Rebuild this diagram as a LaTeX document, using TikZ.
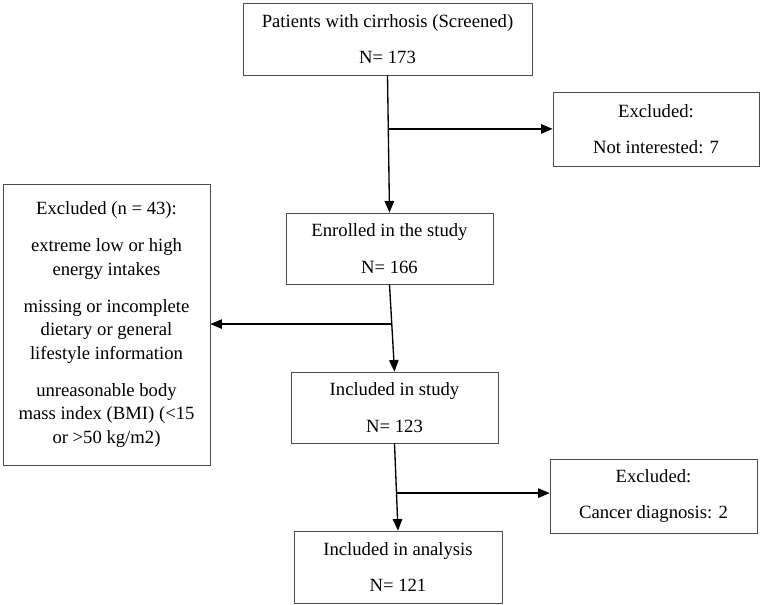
\documentclass[tikz,border=0pt]{standalone}
\usepackage{fontspec}
\setmainfont{Liberation Serif}
\usetikzlibrary{arrows,positioning}
\tikzstyle{caja} = [draw=black!70, line width=0.6pt, rectangle, align=center, inner sep=0pt, font=\fontsize{14}{17.5}\selectfont]
\tikzstyle{flecha} = [draw, line width=1pt, -triangle 45]

\begin{document}
\begin{tikzpicture}[x=0.75pt,y=-0.75pt]
					\useasboundingbox (0,0) rectangle (762,605);
					% cajas principales
					\node [caja, minimum width=216.75pt, minimum height=54pt] (tamizados) at (387.5,39) {Patients with cirrhosis (Screened)\\[10pt]N= 173};
					\node [caja, minimum width=155.25pt, minimum height=53.25pt] (inscritos) at (389.5,248.5) {Enrolled in the study\\[10pt]N= 166};
					\node [caja, minimum width=155.25pt, minimum height=53.25pt] (incluidos) at (394.5,407.5) {Included in study\\[10pt]N= 123};
					\node [caja, minimum width=156pt, minimum height=54pt] (analisis) at (398,567) {Included in analysis\\[10pt]N= 121};
					% cajas de excluidos
					\node [caja, minimum width=154.5pt, minimum height=55.5pt] (excluidosA) at (656,129) {Excluded:\\[10pt]Not interested: 7};
					\node [caja, minimum width=155.25pt, minimum height=55.5pt] (excluidosC) at (653.5,496) {Excluded:\\[10pt]Cancer diagnosis: 2};
					\node [caja, minimum width=155.25pt, minimum height=210.75pt] (excluidosB) at (106.5,324.5) {Excluded (n = 43):\\[10.5pt]
						extreme low or high\\ energy intakes\\[10.5pt]
						missing or incomplete\\ dietary or general\\ lifestyle information\\[10.5pt]
						unreasonable body\\ mass index (BMI) (<15\\ or >50 kg/m2)};
					% flechas
					\draw [flecha] (tamizados.south) -- (inscritos.north);
					\draw [flecha] (inscritos.south) -- (incluidos.north);
					\draw [flecha] (incluidos.south) -- (analisis.north);
					\path (tamizados.south) -- (inscritos.north) coordinate[pos=0.39] (ramaA);
					\path (inscritos.south) -- (incluidos.north) coordinate[pos=0.455] (ramaB);
					\path (incluidos.south) -- (analisis.north) coordinate[pos=0.57] (ramaC);
					\draw [flecha] (ramaA) -- (excluidosA.west |- ramaA);
					\draw [flecha] (ramaB) -- (excluidosB.east |- ramaB);
					\draw [flecha] (ramaC) -- (excluidosC.west |- ramaC);
\end{tikzpicture}
\end{document}
